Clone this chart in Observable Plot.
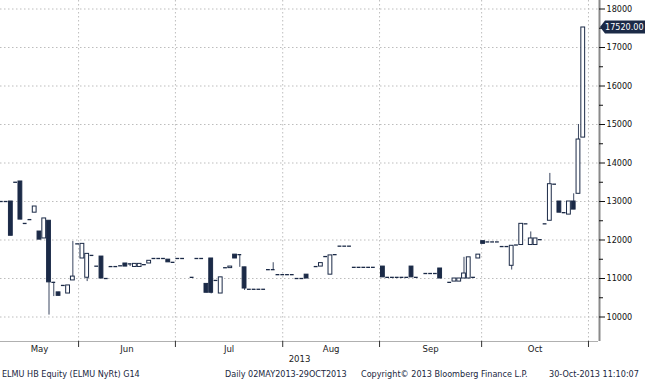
<!DOCTYPE html>
<html><head><meta charset="utf-8">
<script src="https://cdn.jsdelivr.net/npm/d3@7"></script>
<script src="https://cdn.jsdelivr.net/npm/@observablehq/plot@0.6"></script>
<style>
body{margin:0;background:#fff;width:645px;height:380px;overflow:hidden;position:relative;font-family:"DejaVu Sans Condensed","DejaVu Sans",sans-serif;}
#chart{position:absolute;left:0;top:0;}
#footer span{position:absolute;top:368px;font-size:9px;line-height:12px;color:#1a2740;white-space:nowrap;}
</style></head><body>
<div id="chart"></div>
<div id="footer">
<span style="left:2px">ELMU HB Equity (ELMU NyRt) G14</span>
<span style="left:225px">Daily 02MAY2013-29OCT2013</span>
<span style="left:361px">Copyright© 2013 Bloomberg Finance L.P.</span>
<span style="left:549px">30-Oct-2013 11:10:07</span>
</div>
<script>
// trading-day index of each candle
const day = [0,1,2,3,4,5,6,7,8,9,10,11,12,13,14,15,16,17,18,19,20,21,22,23,24,25,26,27,28,29,30,31,32,33,34,35,36,37,38,
  40,41,42,43,44,45,46,47,48,49,50,51,52,53,54,55,56,57,58,59,60,61,62,63,64,
  66,67,68,69,70,71,72,73,74,75,76,77,78,
  80,81,82,83,84,85,86,87,
  89,90,91,92,
  94,95,96,97,98,99,100,101,102,103,104,105,106,107,108,109,110,111,112,113,114,115,116,117,118,119,120,121,122];
const open = [13000,13000,13000,13500,13520,12430,12530,12710,12220,12040,
  12500,10900,10640,10820,10610,10950,11900,11520,11020,11600,
  11320,11570,11000,11310,11310,11330,11390,11380,11300,11300,
  11360,11390,11520,11520,11520,11490,11420,11520,11520,
  11030,11520,11520,10860,11520,10950,10610,11280,11270,11620,
  11620,11290,10720,10720,10720,10720,11230,11230,11100,11100,
  11100,11100,11000,11000,11100,
  11310,11310,11570,11100,11620,11840,11840,11840,
  11290,11290,11290,11290,11290,
  11310,11030,11030,11030,11030,11030,11310,11030,
  11130,11130,11130,11260,
  10900,10920,10920,11000,11000,11030,11520,11970,11950,11950,
  11950,11830,11830,11330,11870,11870,12420,11870,11870,12010,
  12420,12500,13450,13000,12710,12660,13000,13200,14660];
const high = [13000,13000,13000,13500,13520,12430,12530,12870,12220,12560,
  12500,10900,10640,10820,10820,11960,11900,11900,11640,11600,
  11320,11570,11000,11310,11310,11330,11390,11380,11380,11380,
  11360,11460,11520,11520,11520,11490,11420,11520,11520,
  11030,11520,11520,10860,11520,10950,11030,11280,11310,11620,
  11620,11290,10720,10720,10720,10720,11230,11410,11100,11100,
  11100,11100,11000,11000,11100,
  11310,11400,11570,11600,11620,11840,11840,11840,
  11290,11290,11290,11290,11290,
  11310,11030,11030,11030,11030,11030,11310,11030,
  11130,11130,11130,11260,
  10900,11000,11000,11550,11550,11030,11620,11970,11950,11950,
  11950,11830,11830,11850,11870,12420,12420,12210,12040,12010,
  12420,13730,13450,13000,12710,13000,13200,15000,17520];
const low = [13000,13000,12110,13500,12530,12430,12530,12710,12010,12040,
  10050,10530,10550,10820,10610,10950,11900,11520,10920,11600,
  11320,11000,11000,11310,11310,11330,11310,11310,11300,11300,
  11360,11390,11520,11520,11520,11420,11420,11520,11520,
  11030,11520,11520,10630,10600,10950,10610,11280,11270,11520,
  11290,10690,10720,10720,10720,10720,11230,11230,11100,11100,
  11100,11100,11000,11000,11000,
  11310,11310,11570,11100,11620,11840,11840,11840,
  11290,11290,11290,11290,11290,
  11030,11030,11030,11030,11030,11030,11030,11030,
  11130,11130,11130,11000,
  10900,10920,10920,11000,11000,11030,11520,11900,11950,11950,
  11950,11830,11830,11220,11870,11870,12420,11870,11870,12010,
  12420,12500,13450,12710,12710,12660,12790,13200,14660];
const close = [13000,13000,12110,13500,12530,12430,12530,12870,12010,12560,
  10900,10900,10550,10820,10820,11050,11900,11900,11640,11600,
  11320,11000,11000,11310,11310,11330,11310,11380,11380,11380,
  11360,11460,11520,11520,11520,11420,11420,11520,11520,
  11030,11520,11520,10630,10630,10950,11030,11280,11310,11520,
  11620,10740,10720,10720,10720,10720,11230,11230,11100,11100,
  11100,11100,11000,11000,11000,
  11310,11400,11570,11600,11620,11840,11840,11840,
  11290,11290,11290,11290,11290,
  11030,11030,11030,11030,11030,11030,11030,11030,
  11130,11130,11130,11000,
  10900,11000,11000,11130,11550,11030,11620,11900,11950,11950,
  11950,11830,11830,11850,11870,12420,12420,12040,12040,12010,
  12420,13450,13450,12710,12710,13000,12790,14610,17520];

// axis definitions
const months = ["May","Jun","Jul","Aug","Sep","Oct"];
const monthBounds = [16.2, 36.5, 59.0, 79.3, 100.7, 123.1];   // month separators (trading-day index)
const xDomain = [-0.17, 125.2];
const yDomain = [9364, 18221];
const majorTicks = [10000,11000,12000,13000,14000,15000,16000,17000,18000];
const minorTicks = [10500,11500,12500,13500,14500,15500,16500,17500];
const yearLabel = ["2013"];

const navy = "#1b2a47";
const hw = 0.4;
const rows = day.map((d,k)=>({d, o:open[k], h:high[k], l:low[k], c:close[k]}));
const bodies = rows.filter(r=>r.o!==r.c);
const flats = rows.filter(r=>r.o===r.c);
const wicks = rows.filter(r=>r.h!==r.l);
const monthRows = months.map((m,i)=>({m, x: ((i===0?xDomain[0]:monthBounds[i-1]) + monthBounds[i]) / 2}));

const plot = Plot.plot({
  width: 645, height: 366,
  marginLeft: 0, marginRight: 47, marginTop: 0, marginBottom: 25,
  x: {domain: xDomain, axis: null},
  y: {domain: yDomain, axis: null},
  style: {fontFamily: "'DejaVu Sans Condensed','DejaVu Sans',sans-serif", fontSize: "9px", color: "#111", background: "#fff", overflow: "visible"},
  marks: [
    Plot.gridY(majorTicks, {stroke: "#bdbdbd", strokeOpacity: 1, strokeDasharray: "1.5,2.5"}),
    Plot.gridX(monthBounds, {stroke: "#bdbdbd", strokeOpacity: 1, strokeDasharray: "1.5,2.5"}),
    Plot.ruleY([yDomain[0]], {stroke: "#b0b0b0"}),
    Plot.axisX(monthBounds, {tickSize: 6, tickFormat: () => "", stroke: "#333"}),
    Plot.text(monthRows, {x: "x", text: "m", frameAnchor: "bottom", dy: 10, fontSize: 9.5, fill: "#222"}),
    Plot.text(yearLabel, {text: d => d, frameAnchor: "bottom", dy: 20, fontSize: 9.5, fill: "#222"}),
    Plot.ruleX(wicks, {x: "d", y1: "l", y2: "h", stroke: "#3b4760", strokeWidth: 1}),
    Plot.rect(bodies, {x1: r => r.d - hw, x2: r => r.d + hw, y1: "o", y2: "c",
      fill: r => r.c < r.o ? navy : "#fff", stroke: navy, strokeWidth: 1}),
    Plot.ruleY(flats, {x1: r => r.d - hw, x2: r => r.d + hw, y: "o", stroke: navy, strokeWidth: 1.3}),
    Plot.ruleX([xDomain[1]], {stroke: "#8a8a8a", strokeWidth: 2, dx: 1}),
    Plot.axisY(majorTicks, {anchor: "right", tickSize: 6, tickPadding: 2, tickFormat: d3.format("d"), fontSize: 9, stroke: "#111", fill: "#111"}),
    Plot.axisY(minorTicks, {anchor: "right", tickSize: 4, tickFormat: () => "", stroke: "#111"})
  ]
});
document.getElementById("chart").appendChild(plot);

// last-price tag on the right axis
const lastClose = close[close.length - 1];
const yv = plot.scale("y").apply(lastClose);
const svg = d3.select(plot);
svg.append("path")
  .attr("d", `M600,${yv} L605,${yv-6.5} H645 V${yv+6.5} H605 Z`)
  .attr("fill", navy);
svg.append("text")
  .attr("x", 605).attr("y", yv).attr("dy", "0.35em")
  .attr("text-anchor", "start")
  .attr("fill", "#fff").attr("font-size", 9)
  .text(d3.format(".2f")(lastClose));
</script>
</body></html>
